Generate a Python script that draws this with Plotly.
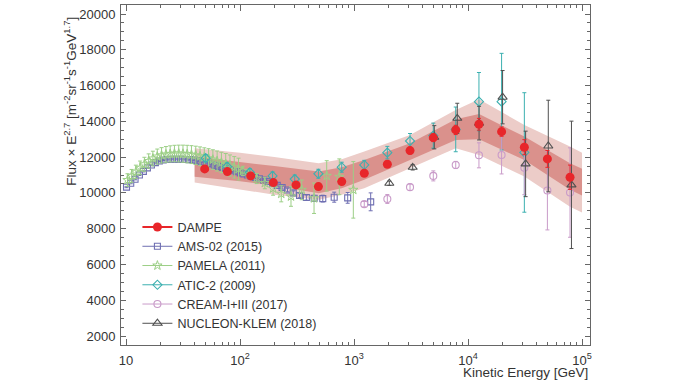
import plotly.graph_objects as go

# ---------------- data ----------------
dampe_e = [49, 77.5, 124, 196, 310, 487, 780, 1230, 1960, 3100, 4960, 7800, 12470, 19700, 31200, 49700, 78500]
dampe_v = [11340, 11190, 10950, 10575, 10446, 10352, 10631, 11100, 11603, 12363, 13089, 13519, 13837, 13424, 12553, 11899, 10876]
dampe_err = [60, 60, 60, 70, 80, 90, 100, 120, 150, 180, 220, 260, 330, 260, 420, 470, 680]

band_e = [40, 100, 200, 490, 780, 1230, 3100, 7800, 12500, 31200, 78500, 100000]
band_outer_hi = [12500, 12250, 12000, 11660, 11880, 12310, 13240, 14640, 15230, 13800, 12590, 12250]
band_inner_hi = [12030, 11750, 11500, 11190, 11430, 11840, 12780, 14120, 14410, 13150, 11660, 11350]
band_inner_lo = [10900, 10650, 10400, 9980, 10260, 10730, 11840, 12960, 13000, 11840, 10170, 9850]
band_outer_lo = [10580, 10200, 9900, 9610, 9890, 10260, 11380, 12500, 12120, 10910, 9230, 8900]

ams_e = [10.1, 11.0, 12.0, 13.1, 14.2, 15.4, 16.7, 18.1, 19.6, 21.2, 22.9, 24.7, 26.7, 28.9, 31.2, 33.6,
         36.2, 39.0, 42.0, 45.2, 48.6, 52.3, 56.3, 60.5, 65.0, 69.9, 75.1, 80.7, 86.8, 93.3, 100.5, 108,
         116, 125, 136, 148, 161, 176, 193, 212, 234, 261, 293, 333, 382, 447, 532, 670, 880, 1400]
ams_v = [10320, 10540, 10760, 11000, 11200, 11400, 11560, 11690, 11780, 11840, 11870, 11880, 11880, 11880, 11880, 11870,
         11860, 11830, 11790, 11740, 11700, 11650, 11600, 11540, 11480, 11420, 11360, 11300, 11240, 11180, 11120, 11060,
         11000, 10930, 10860, 10790, 10720, 10640, 10540, 10420, 10300, 10160, 10000, 9850, 9740, 9700, 9680, 9760, 9720, 9500]
ams_err = [30, 30, 30, 30, 30, 30, 30, 30, 30, 30, 30, 30, 30, 30, 30, 30,
           30, 30, 30, 30, 30, 30, 30, 30, 30, 30, 40, 40, 40, 40, 40, 50,
           50, 50, 60, 60, 70, 70, 80, 80, 90, 100, 110, 120, 140, 160, 190, 280, 300, 500]

pamela_e = [10.3, 11.2, 12.2, 13.3, 14.5, 15.8, 17.2, 18.8, 20.5, 22.4, 24.4, 26.6, 29.0, 31.6, 34.4, 37.5,
            40.9, 44.6, 48.6, 53.0, 57.8, 63.0, 68.7, 74.9, 81.6, 89.0, 97.0, 106, 120, 140, 165, 195,
            230, 280, 348, 446, 576, 743, 986]
pamela_v = [10720, 10950, 11180, 11400, 11600, 11780, 11920, 12030, 12100, 12150, 12180, 12200, 12200, 12190, 12170, 12140,
            12100, 12050, 11990, 11930, 11860, 11780, 11700, 11620, 11530, 11430, 11330, 11230, 11050, 10800, 10550, 10250,
            9950, 9800, 10170, 9700, 10950, 10900, 10170]
pamela_err = [350, 360, 370, 380, 390, 400, 410, 420, 430, 440, 450, 460, 470, 480, 490, 500,
              510, 520, 530, 540, 550, 560, 570, 580, 590, 600, 610, 260, 250, 280, 320, 380,
              450, 550, 550, 850, 850, 1000, 1580]

atic_e = [50, 77, 122, 193, 302, 487, 780, 1230, 1960, 3100, 4960, 7800, 12470, 19700, 31200]
atic_v = [11940, 11470, 11150, 10950, 10770, 11070, 11435, 11560, 12250, 12900, 13200, 13550, 15100, 15100, 12260]
atic_err = [200, 200, 200, 220, 230, 250, 280, 260, 350, 420, 700, 1250, 1630, 2700, 3340]

cream_e = [1230, 1960, 3100, 4960, 7800, 12470, 19700, 31200, 49700, 78500]
cream_v = [9370, 9660, 10320, 10950, 11560, 12100, 12120, 11400, 10130, 10020]
cream_err = [150, 250, 180, 280, 200, 700, 1060, 1500, 2200, 2500]

nucleon_e = [2040, 3270, 5060, 8050, 12500, 20100, 32000, 50600, 80800]
nucleon_v = [10540, 11430, 13110, 14170, 13900, 15350, 11620, 12620, 10450]
nucleon_err = [120, 150, 650, 840, 940, 1490, 1830, 2560, 3560]

x_ticks = [10, 100, 1000, 10000, 100000]
x_ticktext = ["10", "10<sup>2</sup>", "10<sup>3</sup>", "10<sup>4</sup>", "10<sup>5</sup>"]
y_ticks = [2000, 4000, 6000, 8000, 10000, 12000, 14000, 16000, 18000, 20000]

# ---------------- styles ----------------
C_DAMPE = "#e8262a"
C_AMS = "#6f6fb2"
C_PAM = "#9ccf86"
C_ATIC = "#3cb0b0"
C_CREAM = "#c99bc9"
C_NUC = "#505050"
FONT = "Liberation Sans, Arial, sans-serif"

fig = go.Figure()

# bands
fig.add_trace(go.Scatter(x=band_e + band_e[::-1], y=band_outer_hi + band_outer_lo[::-1],
                         fill="toself", fillcolor="#ecccc8", line=dict(width=0),
                         mode="lines", showlegend=False, hoverinfo="skip"))
fig.add_trace(go.Scatter(x=band_e + band_e[::-1], y=band_inner_hi + band_inner_lo[::-1],
                         fill="toself", fillcolor="#da918c", line=dict(width=0),
                         mode="lines", showlegend=False, hoverinfo="skip"))

def add_series(name, e, v, err, color, symbol, size, rank, lw=1, lwm=1.1):
    mk = dict(symbol=symbol, size=size, color=color, line=dict(color=color, width=lwm))
    fig.add_trace(go.Scatter(x=e, y=v, mode="markers", marker=mk, showlegend=False,
                             error_y=dict(type="data", array=err, color=color, thickness=1, width=2)))
    fig.add_trace(go.Scatter(x=[None], y=[None], mode="lines+markers", name=name,
                             marker=mk, line=dict(color=color, width=lw), legendrank=rank))

add_series("AMS-02 (2015)", ams_e, ams_v, ams_err, C_AMS, "square-open", 6, 2)
add_series("PAMELA (2011)", pamela_e, pamela_v, pamela_err, C_PAM, "star-open", 7, 3, lwm=1)
add_series("ATIC-2 (2009)", atic_e, atic_v, atic_err, C_ATIC, "diamond-open", 7, 4)
add_series("CREAM-I+III (2017)", cream_e, cream_v, cream_err, C_CREAM, "circle-open", 7, 5)
add_series("NUCLEON-KLEM (2018)", nucleon_e, nucleon_v, nucleon_err, C_NUC, "triangle-up-open", 8, 6)
add_series("DAMPE", dampe_e, dampe_v, dampe_err, C_DAMPE, "circle", 9, 1, lw=2, lwm=0)

minor_x = [m * 10 ** d for d in range(1, 5) for m in range(2, 10)]

fig.update_layout(
    width=682, height=384,
    margin=dict(l=121, r=92, t=5, b=39),
    paper_bgcolor="white", plot_bgcolor="white",
    font=dict(family=FONT, size=13, color="#333333"),
    showlegend=True,
    legend=dict(x=0.035, y=0.39, xanchor="left", yanchor="top", bgcolor="rgba(0,0,0,0)",
                font=dict(size=12.5, color="#333333"), tracegroupgap=0, itemwidth=30),
    xaxis=dict(type="log", range=[0.956, 5.070], showline=True, linecolor="#666666", linewidth=1,
               mirror="ticks", ticks="inside", ticklen=6, tickcolor="#666666",
               tickvals=x_ticks, ticktext=x_ticktext, showgrid=False, zeroline=False,
               tickfont=dict(size=13, color="#333333"), ticklabelstandoff=3,
               minor=dict(tickvals=minor_x, ticks="inside", ticklen=3, tickcolor="#666666", showgrid=False)),
    yaxis=dict(range=[1497, 20503], showline=True, linecolor="#666666", linewidth=1,
               mirror="ticks", ticks="inside", ticklen=5, tickcolor="#666666",
               tickvals=y_ticks, tickformat="d", showgrid=False, zeroline=False,
               tickfont=dict(size=13, color="#333333"), ticklabelstandoff=2,
               minor=dict(dtick=500, tick0=0, ticks="inside", ticklen=3, tickcolor="#666666", showgrid=False)),
    annotations=[
        dict(text="Kinetic Energy [GeV]", xref="paper", yref="paper", x=1.0, y=-0.082,
             xanchor="right", yanchor="middle", showarrow=False, font=dict(size=13.5, color="#333333")),
        dict(text="Flux × E<sup>2.7</sup> [m<sup>-2</sup>sr<sup>-1</sup>s<sup>-1</sup>GeV<sup>1.7</sup>]",
             xref="paper", yref="paper", x=-0.109, y=0.718, xanchor="center", yanchor="middle",
             textangle=-90, showarrow=False, font=dict(size=13.5, color="#333333")),
    ],
)

fig.write_html("out.html", config={"displayModeBar": False},
               post_script="document.body.style.margin='0';document.body.style.overflow='hidden';")
